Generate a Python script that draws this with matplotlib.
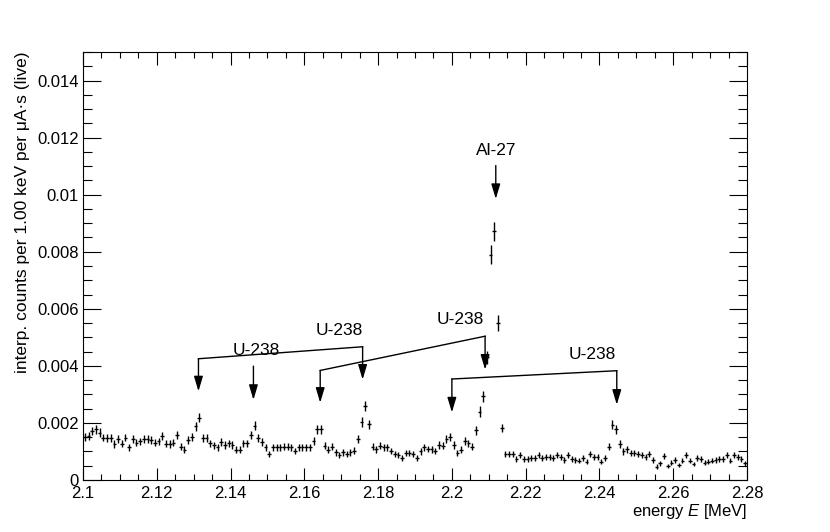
import numpy as np
import matplotlib
matplotlib.use('Agg')
import matplotlib.pyplot as plt
from matplotlib.ticker import MultipleLocator, FuncFormatter

plt.rcParams['font.family'] = ['Liberation Sans', 'DejaVu Sans']
plt.rcParams['mathtext.fontset'] = 'custom'
plt.rcParams['mathtext.it'] = 'Liberation Sans:italic'
plt.rcParams['mathtext.rm'] = 'Liberation Sans'

# 1 keV bins from 2.100 to 2.280 MeV
bin_lo = 2.100
bin_width = 0.001
counts = [
    0.00152, 0.00155, 0.00172, 0.00178, 0.00166, 0.00149, 0.00147, 0.00147, 0.00126, 0.00143,
    0.00127, 0.00149, 0.00114, 0.00143, 0.00131, 0.00135, 0.00143, 0.00143, 0.00141, 0.00131,
    0.00135, 0.00154, 0.00127, 0.00126, 0.00131, 0.00158, 0.00117, 0.00106, 0.00141, 0.00152,
    0.00188, 0.00219, 0.00147, 0.00147, 0.00129, 0.00121, 0.00115, 0.00133, 0.00123, 0.00129,
    0.00123, 0.00106, 0.00106, 0.00129, 0.00129, 0.00158, 0.00191, 0.00147, 0.00133, 0.00114,
    0.00090, 0.00114, 0.00115, 0.00114, 0.00117, 0.00117, 0.00115, 0.00102, 0.00115, 0.00115,
    0.00115, 0.00115, 0.00137, 0.00178, 0.00178, 0.00120, 0.00106, 0.00117, 0.00097, 0.00088,
    0.00097, 0.00090, 0.00097, 0.00103, 0.00143, 0.00203, 0.00260, 0.00196, 0.00117, 0.00108,
    0.00120, 0.00115, 0.00115, 0.00102, 0.00091, 0.00086, 0.00076, 0.00094, 0.00094, 0.00090,
    0.00076, 0.00100, 0.00115, 0.00109, 0.00108, 0.00102, 0.00123, 0.00120, 0.00144, 0.00152,
    0.00123, 0.00094, 0.00106, 0.00137, 0.00129, 0.00117, 0.00174, 0.00240, 0.00293, 0.00430,
    0.00790, 0.00872, 0.00550, 0.00182, 0.00091, 0.00091, 0.00090, 0.00074, 0.00088, 0.00073,
    0.00073, 0.00076, 0.00076, 0.00086, 0.00076, 0.00082, 0.00080, 0.00076, 0.00088, 0.00080,
    0.00070, 0.00088, 0.00073, 0.00070, 0.00068, 0.00076, 0.00064, 0.00090, 0.00082, 0.00082,
    0.00064, 0.00076, 0.00117, 0.00193, 0.00178, 0.00126, 0.00100, 0.00108, 0.00094, 0.00094,
    0.00090, 0.00088, 0.00082, 0.00090, 0.00070, 0.00047, 0.00059, 0.00084, 0.00049, 0.00061,
    0.00070, 0.00053, 0.00068, 0.00088, 0.00068, 0.00056, 0.00076, 0.00073, 0.00061, 0.00064,
    0.00068, 0.00070, 0.00073, 0.00073, 0.00088, 0.00068, 0.00088, 0.00082, 0.00073, 0.00059,
]

# peak markers: (energy, arrow top, arrow tip)
al_arrow = (2.2119, 0.01102, 0.00985)
al_label = (2.2119, 0.01155, 'Al-27')

# U-238 groups: list of arrows, label position
u_groups = [
    {'arrows': [(2.1462, 0.00399, 0.00281)], 'label': (2.1471, 0.00455)},
    {'arrows': [(2.1313, 0.00425, 0.00311), (2.1758, 0.00467, 0.00352)], 'label': (2.1695, 0.00525)},
    {'arrows': [(2.1643, 0.00384, 0.00271), (2.2090, 0.00504, 0.00387)], 'label': (2.2022, 0.00563)},
    {'arrows': [(2.2000, 0.00354, 0.00237), (2.2447, 0.00383, 0.00264)], 'label': (2.2380, 0.00440)},
]

counts = np.array(counts)
energy = bin_lo + bin_width * (np.arange(len(counts)) + 0.5)
err = np.sqrt(counts * 1.3e-5)

fig = plt.figure(figsize=(8.3, 5.32), dpi=100)
ax = fig.add_axes([0.1, 0.0977, 0.8, 0.8046])

ax.errorbar(energy, counts, xerr=bin_width / 2, yerr=err, fmt='none',
            ecolor='black', elinewidth=1.0, capsize=0)

ax.set_xlim(2.1, 2.28)
ax.set_ylim(0, 0.015)

ax.xaxis.set_major_locator(MultipleLocator(0.02))
ax.xaxis.set_minor_locator(MultipleLocator(0.005))
ax.yaxis.set_major_locator(MultipleLocator(0.002))
ax.yaxis.set_minor_locator(MultipleLocator(0.0005))
fmt = FuncFormatter(lambda v, p: ('%.3f' % v).rstrip('0').rstrip('.') if v != 0 else '0')
ax.xaxis.set_major_formatter(FuncFormatter(lambda v, p: ('%.2f' % v).rstrip('0').rstrip('.')))
ax.yaxis.set_major_formatter(fmt)

ax.tick_params(axis='both', which='both', direction='in', top=True, right=True,
               labelsize=12, width=0.8)
ax.tick_params(axis='x', which='major', length=9, pad=4)
ax.tick_params(axis='x', which='minor', length=4.5)
ax.tick_params(axis='y', which='major', length=13, pad=3)
ax.tick_params(axis='y', which='minor', length=6.5)
for s in ax.spines.values():
    s.set_linewidth(0.8)

ax.set_xlabel(r'energy $E$ [MeV]', fontsize=12, loc='right', labelpad=1)
ax.set_ylabel('interp. counts per 1.00 keV per μA·s (live)', fontsize=12.5,
              loc='top', labelpad=5)

aprops = dict(arrowstyle='-|>,head_length=0.9,head_width=0.27', color='black',
              lw=1.0, mutation_scale=10, shrinkA=0, shrinkB=0)


def draw_arrow(x, top, tip):
    ax.annotate('', xy=(x, tip), xytext=(x, top), arrowprops=aprops)


draw_arrow(*al_arrow)
ax.text(al_label[0], al_label[1], al_label[2], ha='center', va='center', fontsize=12.5)

for g in u_groups:
    arrows = g['arrows']
    for a in arrows:
        draw_arrow(*a)
    if len(arrows) == 2:
        ax.plot([arrows[0][0], arrows[1][0]], [arrows[0][1], arrows[1][1]],
                color='black', lw=1.0)
    ax.text(g['label'][0], g['label'][1], 'U-238', ha='center', va='center', fontsize=12.5)

fig.savefig('out.png', dpi=100)
